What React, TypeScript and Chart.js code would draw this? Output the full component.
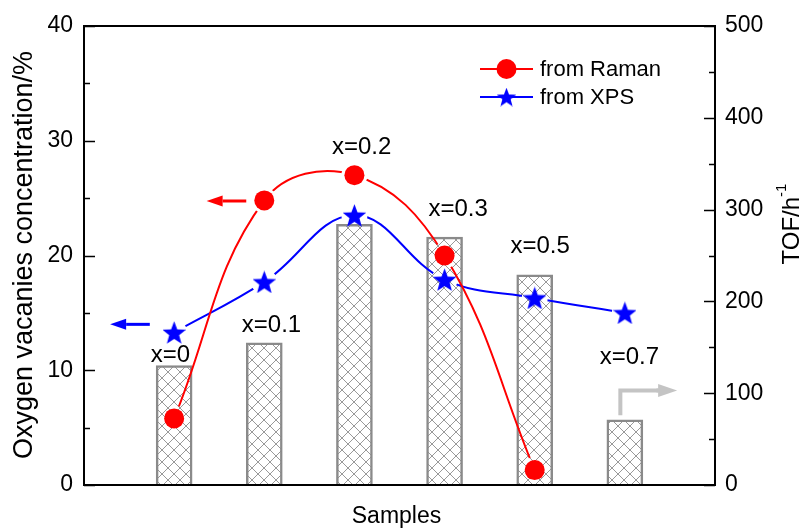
import React, { useEffect, useRef } from 'react';
import { Chart, registerables } from 'chart.js';
Chart.register(...registerables);

// ---- data ----
const samplePositions = [1, 2, 3, 4, 5, 6];
const sampleLabels = ['x=0', 'x=0.1', 'x=0.2', 'x=0.3', 'x=0.5', 'x=0.7'];
const tofValues = [130, 155, 284, 270, 229, 71];
const ramanValues = [5.8, 24.8, 27.0, 20.0, 1.3];
const xpsValues = [13.3, 17.7, 23.5, 17.9, 16.3, 15.0];
const labelX = [0.96, 2.08, 3.08, 4.15, 5.06, 6.05];
const labelY = [11.3, 13.9, 29.4, 24.0, 20.8, 11.1];
const leftTicks = [0, 10, 20, 30, 40];
const rightTicks = [0, 100, 200, 300, 400, 500];

const FONT = "'Liberation Sans', Arial, Helvetica, sans-serif";
const RED = '#ff0000';
const BLUE = '#0000ff';
const GRAY_ARROW = '#c4c4c4';

function makeStar(size: number, color: string) {
  const c = document.createElement('canvas');
  c.width = size;
  c.height = size;
  const g = c.getContext('2d')!;
  g.fillStyle = color;
  const R = size / 2 / 0.905 * 0.98;
  const r = R * 0.42;
  const cx = size / 2;
  const cy = size / 2 + R * 0.095;
  g.beginPath();
  for (let i = 0; i < 10; i++) {
    const ang = -Math.PI / 2 + (i * Math.PI) / 5;
    const rad = i % 2 === 0 ? R : r;
    const px = cx + rad * Math.cos(ang);
    const py = cy + rad * Math.sin(ang);
    if (i === 0) g.moveTo(px, py);
    else g.lineTo(px, py);
  }
  g.closePath();
  g.fill();
  return c;
}

function makeHatch(ctx: CanvasRenderingContext2D) {
  const s = 12;
  const c = document.createElement('canvas');
  c.width = s;
  c.height = s;
  const g = c.getContext('2d')!;
  g.fillStyle = '#ffffff';
  g.fillRect(0, 0, s, s);
  g.strokeStyle = '#999999';
  g.lineWidth = 1;
  g.beginPath();
  for (const o of [-s, 0, s]) {
    g.moveTo(o - 2, -2);
    g.lineTo(o + s + 2, s + 2);
    g.moveTo(o + s + 2, -2);
    g.lineTo(o - 2, s + 2);
  }
  g.stroke();
  return ctx.createPattern(c, 'repeat')!;
}

function arrow(ctx: CanvasRenderingContext2D, x1: number, y1: number, x2: number, y2: number, color: string, lw: number, headLen: number, headHalf: number) {
  const ang = Math.atan2(y2 - y1, x2 - x1);
  const bx = x2 - headLen * Math.cos(ang);
  const by = y2 - headLen * Math.sin(ang);
  ctx.strokeStyle = color;
  ctx.fillStyle = color;
  ctx.lineWidth = lw;
  ctx.beginPath();
  ctx.moveTo(x1, y1);
  ctx.lineTo(bx, by);
  ctx.stroke();
  ctx.beginPath();
  ctx.moveTo(x2, y2);
  ctx.lineTo(bx + headHalf * Math.sin(ang), by - headHalf * Math.cos(ang));
  ctx.lineTo(bx - headHalf * Math.sin(ang), by + headHalf * Math.cos(ang));
  ctx.closePath();
  ctx.fill();
}

export default function App() {
  const ref = useRef<HTMLCanvasElement>(null);

  useEffect(() => {
    const canvas = ref.current!;
    const ctx0 = canvas.getContext('2d')!;
    const star = makeStar(23, BLUE);
    const legendStar = makeStar(19, BLUE);
    const hatch = makeHatch(ctx0);

    const overlay = {
      id: 'overlay',
      beforeDatasetDraw(chart: any, args: any) {
        const ds = chart.data.datasets[args.index];
        if (!ds.gapLine) return;
        const ctx = chart.ctx;
        ctx.save();
        ctx.beginPath();
        ctx.rect(0, 0, chart.width, chart.height);
        for (const p of args.meta.data) {
          ctx.moveTo(p.x + 13, p.y);
          ctx.arc(p.x, p.y, 13, 0, Math.PI * 2);
        }
        ctx.clip('evenodd');
      },
      afterDatasetDraw(chart: any, args: any) {
        const ds = chart.data.datasets[args.index];
        if (!ds.gapLine) return;
        chart.ctx.restore();
      },
      afterDatasetsDraw(chart: any) {
        const { ctx, chartArea: a, scales } = chart;
        const xs = scales.x, ys = scales.y, y1s = scales.y1;
        ctx.save();
        // frame
        ctx.strokeStyle = '#000';
        ctx.lineWidth = 2;
        ctx.strokeRect(a.left, a.top, a.right - a.left, a.bottom - a.top);
        ctx.lineWidth = 1.5;
        ctx.beginPath();
        for (let i = 0; i < leftTicks.length; i++) {
          const v = leftTicks[i];
          const py = Math.round(ys.getPixelForValue(v)) + 0.5;
          ctx.moveTo(a.left, py);
          ctx.lineTo(a.left + 11, py);
          if (i < leftTicks.length - 1) {
            const pm = Math.round(ys.getPixelForValue(v + 5)) + 0.5;
            ctx.moveTo(a.left, pm);
            ctx.lineTo(a.left + 6, pm);
          }
        }
        for (let i = 0; i < rightTicks.length; i++) {
          const v = rightTicks[i];
          const py = Math.round(y1s.getPixelForValue(v)) + 0.5;
          ctx.moveTo(a.right, py);
          ctx.lineTo(a.right - 11, py);
          if (i < rightTicks.length - 1) {
            const pm = Math.round(y1s.getPixelForValue(v + 50)) + 0.5;
            ctx.moveTo(a.right, pm);
            ctx.lineTo(a.right - 6, pm);
          }
        }
        ctx.stroke();

        // arrows
        arrow(ctx, xs.getPixelForValue(1.8), ys.getPixelForValue(24.75), xs.getPixelForValue(1.36), ys.getPixelForValue(24.75), RED, 3, 16, 5.5);
        arrow(ctx, xs.getPixelForValue(0.73), ys.getPixelForValue(14.0), xs.getPixelForValue(0.29), ys.getPixelForValue(14.0), BLUE, 3, 16, 5.5);
        // gray arrow (to right axis)
        const gx = xs.getPixelForValue(5.95);
        const gy0 = y1s.getPixelForValue(76);
        const gy1 = y1s.getPixelForValue(103);
        ctx.strokeStyle = GRAY_ARROW;
        ctx.lineWidth = 4;
        ctx.lineJoin = 'miter';
        ctx.beginPath();
        ctx.moveTo(gx, gy0);
        ctx.lineTo(gx, gy1);
        ctx.lineTo(xs.getPixelForValue(6.4), gy1);
        ctx.stroke();
        arrow(ctx, xs.getPixelForValue(6.35), gy1, xs.getPixelForValue(6.58), gy1, GRAY_ARROW, 4, 19, 6.5);

        ctx.restore();
      },
      afterDraw(chart: any) {
        const { ctx, chartArea: a, scales } = chart;
        const xs = scales.x, ys = scales.y;
        ctx.save();
        ctx.fillStyle = '#000';
        ctx.textAlign = 'center';
        ctx.textBaseline = 'middle';
        ctx.font = `24px ${FONT}`;
        for (let i = 0; i < sampleLabels.length; i++) {
          ctx.fillText(sampleLabels[i], xs.getPixelForValue(labelX[i]), ys.getPixelForValue(labelY[i]));
        }
        // legend
        const lx0 = 480, lx1 = 533, lmx = 506.5;
        ctx.lineWidth = 2;
        ctx.strokeStyle = RED;
        ctx.beginPath();
        ctx.moveTo(lx0, 69);
        ctx.lineTo(lx1, 69);
        ctx.stroke();
        ctx.fillStyle = RED;
        ctx.beginPath();
        ctx.arc(lmx, 69, 10, 0, Math.PI * 2);
        ctx.fill();
        ctx.strokeStyle = BLUE;
        ctx.beginPath();
        ctx.moveTo(lx0, 97);
        ctx.lineTo(lx1, 97);
        ctx.stroke();
        ctx.drawImage(legendStar, lmx - legendStar.width / 2, 97 - legendStar.height / 2);
        ctx.fillStyle = '#000';
        ctx.textAlign = 'left';
        ctx.font = `22px ${FONT}`;
        ctx.fillText('from Raman', 540, 70);
        ctx.fillText('from XPS', 540, 98);

        // axis titles
        ctx.textAlign = 'center';
        ctx.font = `23px ${FONT}`;
        ctx.fillText('Samples', (a.left + a.right) / 2 - 3, 517);

        ctx.save();
        ctx.translate(25, 255);
        ctx.rotate(-Math.PI / 2);
        ctx.font = `27px ${FONT}`;
        ctx.fillText('Oxygen vacanies concentration/%', 0, 0);
        ctx.restore();

        ctx.save();
        ctx.translate(790, 224);
        ctx.rotate(-Math.PI / 2);
        ctx.font = `24px ${FONT}`;
        const main = 'TOF/h';
        const sup = '-1';
        const wMain = ctx.measureText(main).width;
        ctx.font = `15px ${FONT}`;
        const wSup = ctx.measureText(sup).width;
        const total = wMain + wSup;
        ctx.textAlign = 'left';
        ctx.font = `24px ${FONT}`;
        ctx.fillText(main, -total / 2, 2);
        ctx.font = `15px ${FONT}`;
        ctx.fillText(sup, -total / 2 + wMain, -8);
        ctx.restore();

        ctx.restore();
      },
    };

    const chart = new Chart(canvas, {
      type: 'bar',
      data: {
        datasets: [
          {
            type: 'line',
            label: 'from Raman',
            data: ramanValues.map((v, i) => ({ x: samplePositions[i], y: v })),
            showLine: false,
            pointStyle: 'circle',
            pointRadius: 10,
            pointBackgroundColor: RED,
            pointBorderWidth: 0,
            borderColor: RED,
            yAxisID: 'y',
            xAxisID: 'x',
            order: 0,
          } as any,
          {
            type: 'line',
            label: 'from XPS',
            data: xpsValues.map((v, i) => ({ x: samplePositions[i], y: v })),
            showLine: false,
            pointStyle: star,
            pointRadius: 11,
            pointBorderWidth: 0,
            borderColor: BLUE,
            yAxisID: 'y',
            xAxisID: 'x',
            order: 0,
          } as any,
          {
            type: 'line',
            label: 'Raman curve',
            data: ramanValues.map((v, i) => ({ x: samplePositions[i], y: v })),
            borderColor: RED,
            borderWidth: 2,
            pointRadius: 0,
            tension: 0.4,
            fill: false,
            gapLine: true,
            yAxisID: 'y',
            xAxisID: 'x',
            order: 1,
          } as any,
          {
            type: 'line',
            label: 'XPS curve',
            data: xpsValues.map((v, i) => ({ x: samplePositions[i], y: v })),
            borderColor: BLUE,
            borderWidth: 2,
            pointRadius: 0,
            tension: 0.4,
            fill: false,
            gapLine: true,
            yAxisID: 'y',
            xAxisID: 'x',
            order: 1,
          } as any,
          {
            type: 'bar',
            label: 'TOF',
            data: tofValues.map((v, i) => ({ x: samplePositions[i], y: v })),
            backgroundColor: hatch,
            borderColor: '#8a8a8a',
            borderWidth: 2.5,
            barThickness: 36,
            yAxisID: 'y1',
            xAxisID: 'x',
            order: 2,
          } as any,
        ],
      },
      options: {
        animation: false,
        responsive: true,
        maintainAspectRatio: false,
        layout: { padding: { top: 26, left: 0, right: 0, bottom: 0 } },
        plugins: {
          legend: { display: false },
          tooltip: { enabled: false },
        },
        scales: {
          x: {
            type: 'linear',
            min: 0,
            max: 7,
            offset: false,
            display: true,
            grid: { display: false, drawTicks: false, offset: false },
            border: { display: false },
            ticks: { display: false },
            afterFit: (s: any) => {
              s.height = 43;
            },
          },
          y: {
            type: 'linear',
            position: 'left',
            min: 0,
            max: 40,
            grid: { display: false, drawTicks: false },
            border: { display: false },
            ticks: {
              stepSize: 10,
              padding: 11,
              color: '#000',
              font: { family: FONT, size: 23 },
            },
            afterFit: (s: any) => {
              s.width = 84;
            },
          },
          y1: {
            type: 'linear',
            position: 'right',
            min: 0,
            max: 500,
            grid: { display: false, drawTicks: false },
            border: { display: false },
            ticks: {
              stepSize: 100,
              padding: 10,
              color: '#000',
              font: { family: FONT, size: 23 },
            },
            afterFit: (s: any) => {
              s.width = 89;
            },
          },
        },
      } as any,
      plugins: [overlay],
    });

    return () => chart.destroy();
  }, []);

  return (
    <div style={{ position: 'fixed', left: 0, top: 0, width: 804, height: 528, background: '#fff' }}>
      <canvas ref={ref} />
    </div>
  );
}
